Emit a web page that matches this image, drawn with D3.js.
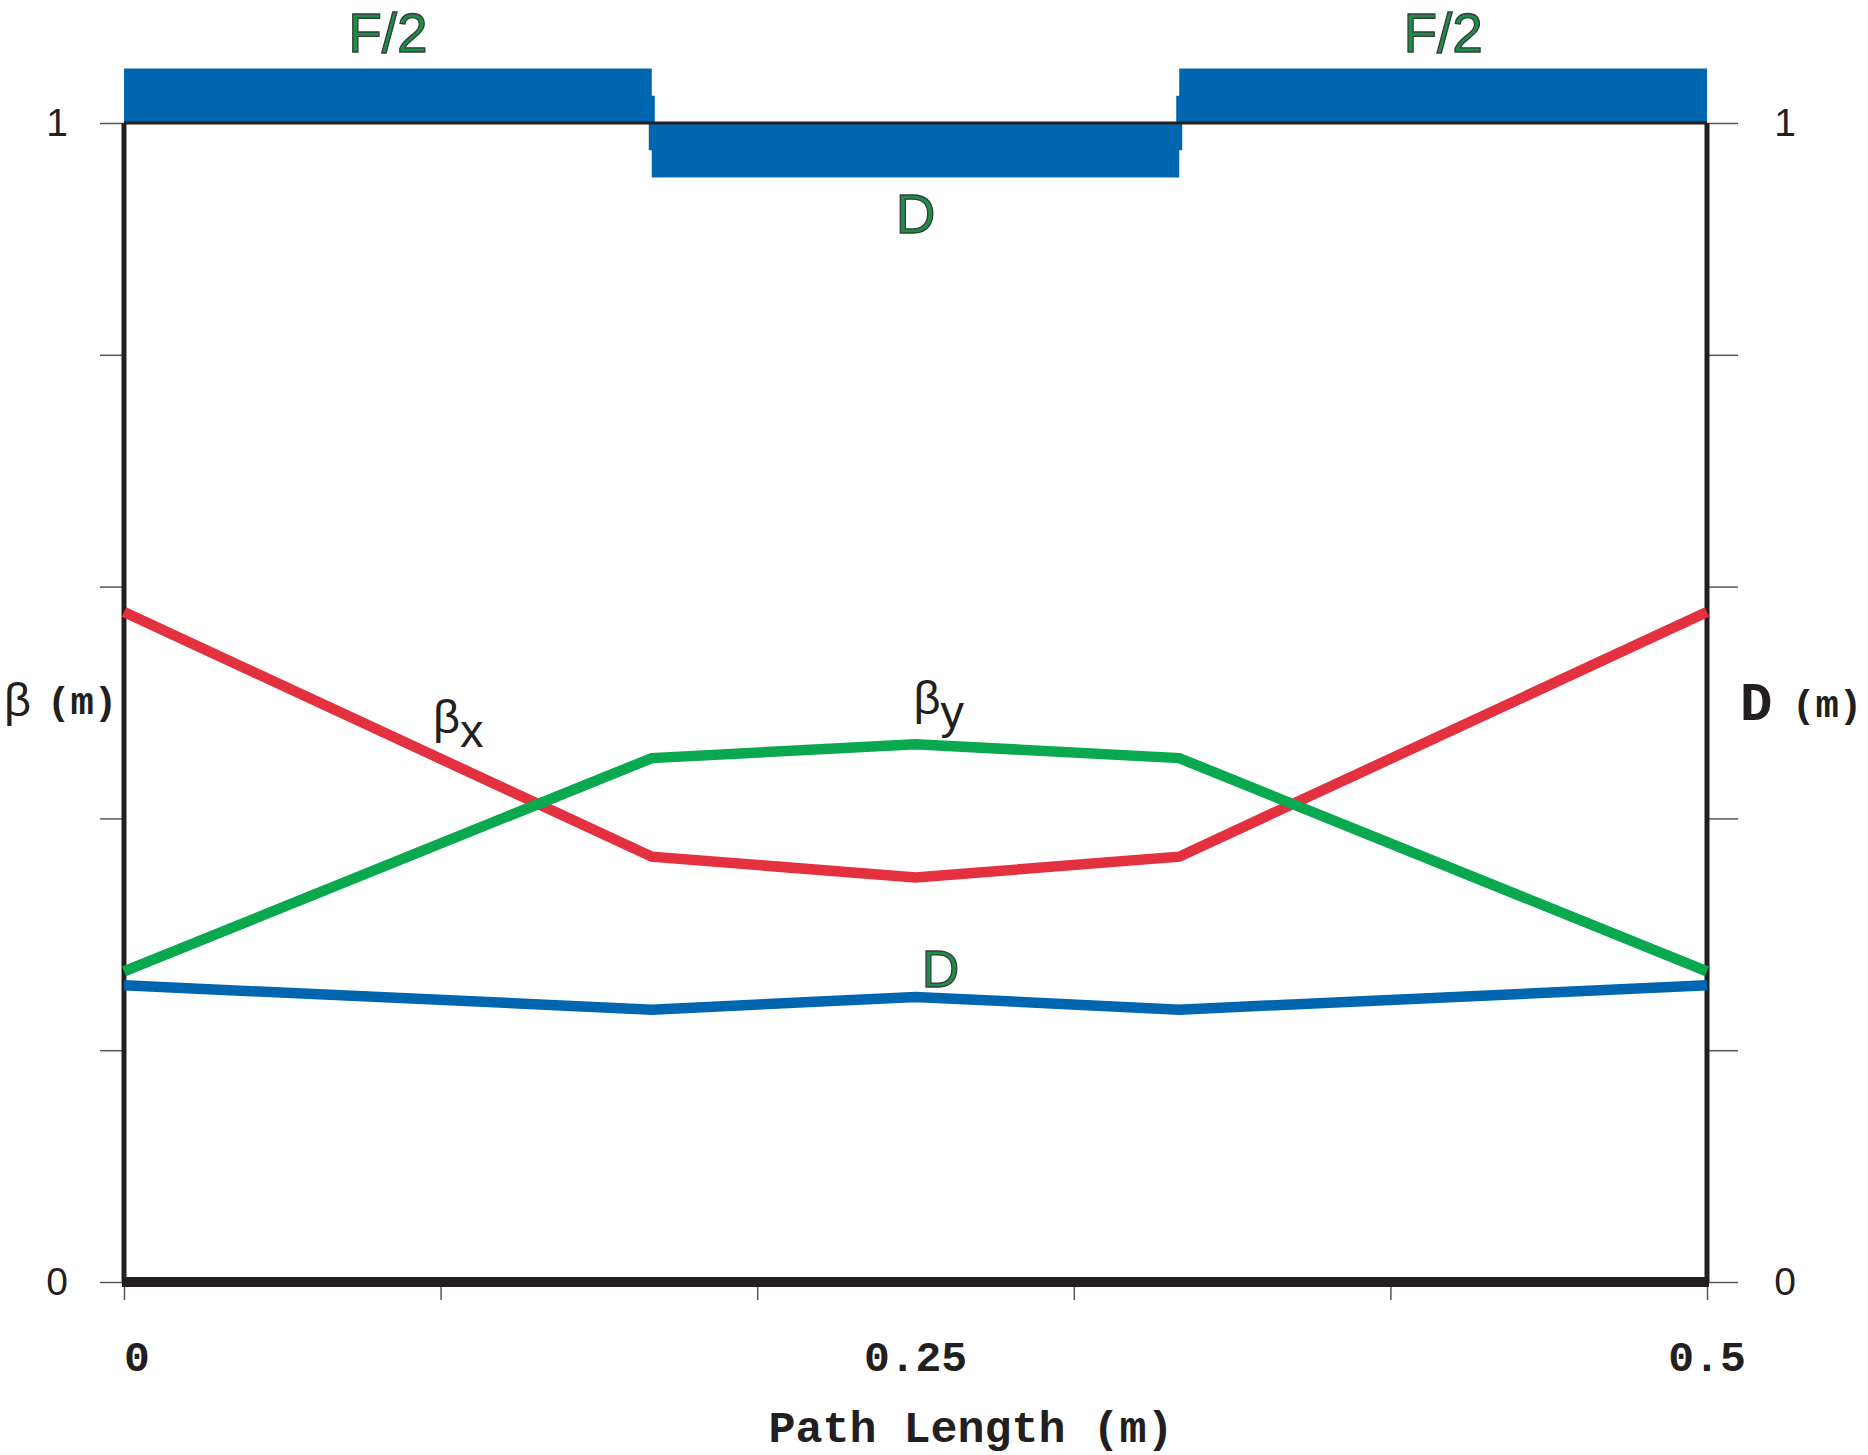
<!DOCTYPE html>
<html>
<head>
<meta charset="utf-8">
<script src="https://cdn.jsdelivr.net/npm/d3@7/dist/d3.min.js"></script>
<style>
  html, body { margin: 0; padding: 0; background: #fff; }
  svg { display: block; }
</style>
</head>
<body>
<svg id="chart" width="1868" height="1455"></svg>
<script>
// ---------------- data ----------------
const pathS   = [0, 0.1667, 0.25, 0.3333, 0.5];      // path length (m)
const betaX   = [0.578, 0.367, 0.349, 0.367, 0.578];  // beta_x (m)
const betaY   = [0.268, 0.452, 0.464, 0.452, 0.268];  // beta_y (m)
const dispD   = [0.256, 0.235, 0.246, 0.235, 0.256];  // dispersion D (m)

const magnetNames  = ["F/2", "D", "F/2"];
const magnetStart  = [0, 0.1667, 0.3333];
const magnetEnd    = [0.1667, 0.3333, 0.5];
const magnetSign   = [1, -1, 1];
const magnetHeight = 0.047;

const yTicks = [0, 0.2, 0.4, 0.6, 0.8, 1];
const yTickLabels = ["0", "1"];
const xTicks = [0, 0.1, 0.2, 0.3, 0.4, 0.5];
const xTickLabels = ["0", "0.25", "0.5"];

// ---------------- layout ----------------
const svg = d3.select("#chart");
const x = d3.scaleLinear().domain([0, 0.5]).range([124, 1707]);
const y = d3.scaleLinear().domain([0, 1]).range([1282, 123]);

const BLUE = "#0066b0", RED = "#e4313f", GREEN = "#0aa84f";
const LABEL_GREEN = "#1b8f48";
const MONO = "'Liberation Mono', 'DejaVu Sans Mono', monospace";
const SANS = "'Liberation Sans', Arial, sans-serif";

// ---------------- axes ticks ----------------
const tickColor = "#555";
const leftAxis = svg.append("g").attr("transform", `translate(${x(0)},0)`)
  .call(d3.axisLeft(y).tickValues(yTicks).tickSize(24).tickFormat(""));
const rightAxis = svg.append("g").attr("transform", `translate(${x(0.5)},0)`)
  .call(d3.axisRight(y).tickValues(yTicks).tickSize(31).tickFormat(""));
const bottomAxis = svg.append("g").attr("transform", `translate(0,${y(0)})`)
  .call(d3.axisBottom(x).tickValues(xTicks).tickSize(18).tickFormat(""));
[leftAxis, rightAxis, bottomAxis].forEach(g => {
  g.select(".domain").remove();
  g.selectAll(".tick line").attr("stroke", tickColor).attr("stroke-width", 1.5);
});

// frame lines
svg.append("line").attr("x1", x(0)).attr("x2", x(0)).attr("y1", y(1)).attr("y2", y(0))
  .attr("stroke", "#231f20").attr("stroke-width", 5);
svg.append("line").attr("x1", x(0.5)).attr("x2", x(0.5)).attr("y1", y(1)).attr("y2", y(0))
  .attr("stroke", "#231f20").attr("stroke-width", 5);

// ---------------- magnet blocks ----------------
const mags = magnetNames.map((n, i) => ({name: n, s0: magnetStart[i], s1: magnetEnd[i], sign: magnetSign[i]}));
svg.append("g").selectAll("rect").data(mags).join("rect")
  .attr("x", d => x(d.s0))
  .attr("width", d => x(d.s1) - x(d.s0))
  .attr("y", d => d.sign > 0 ? y(1 + magnetHeight) : y(1))
  .attr("height", d => Math.abs(y(1) - y(1 + magnetHeight)))
  .attr("fill", BLUE);
// connecting bars at magnet boundaries
const joins = mags.slice(1).map((d, i) => ({s: d.s0, a: mags[i].sign, b: d.sign}));
svg.append("g").selectAll("rect").data(joins).join("rect")
  .attr("x", d => x(d.s) - 3)
  .attr("width", 6)
  .attr("y", y(1 + magnetHeight / 2))
  .attr("height", y(1 - magnetHeight / 2) - y(1 + magnetHeight / 2))
  .attr("fill", BLUE);

// top frame line (over blocks)
svg.append("line").attr("x1", x(0)).attr("x2", x(0.5)).attr("y1", y(1)).attr("y2", y(1))
  .attr("stroke", "#231f20").attr("stroke-width", 3);

// magnet labels
svg.append("g").selectAll("text").data(mags).join("text")
  .attr("x", d => x((d.s0 + d.s1) / 2))
  .attr("y", d => d.sign > 0 ? y(1 + magnetHeight) - 17 : y(1 - magnetHeight) + 56)
  .attr("text-anchor", "middle")
  .attr("font-family", SANS)
  .attr("font-size", 55)
  .attr("fill", LABEL_GREEN)
  .attr("stroke", "#3a3a3a")
  .attr("stroke-width", 1.3)
  .text(d => d.name);

// ---------------- lines ----------------
const line = d3.line().x((d, i) => x(pathS[i])).y(d => y(d));
const series = [
  {vals: betaX, color: RED},
  {vals: betaY, color: GREEN},
  {vals: dispD, color: BLUE}
];
svg.append("g").selectAll("path").data(series).join("path")
  .attr("d", d => line(d.vals))
  .attr("fill", "none")
  .attr("stroke", d => d.color)
  .attr("stroke-width", 10.5)
  .attr("stroke-linejoin", "miter");

// bottom thick axis line
svg.append("line").attr("x1", x(0) - 2).attr("x2", x(0.5) + 2).attr("y1", y(0)).attr("y2", y(0))
  .attr("stroke", "#231f20").attr("stroke-width", 10);

// ---------------- curve labels ----------------
function betaLabel(xv, yv, sub) {
  const t = svg.append("text").attr("x", xv).attr("y", yv)
    .attr("font-family", SANS).attr("font-size", 47).attr("fill", "#231f20");
  t.append("tspan").text("β");
  t.append("tspan").attr("dy", 14).text(sub);
}
betaLabel(x(0.0976), y(0.474), "x");
betaLabel(x(0.25) - 2, y(0.490), "y");

svg.append("text")
  .attr("x", x(0.25) + 25).attr("y", y(dispD[2]) - 10)
  .attr("text-anchor", "middle")
  .attr("font-family", SANS).attr("font-size", 52)
  .attr("fill", LABEL_GREEN).attr("stroke", "#3a3a3a").attr("stroke-width", 1.3)
  .text("D");

// ---------------- tick labels ----------------
svg.append("g").selectAll("text").data(yTickLabels).join("text")
  .attr("x", x(0) - 67).attr("y", d => y(+d) + 13)
  .attr("text-anchor", "middle").attr("font-family", SANS).attr("font-size", 39)
  .attr("fill", "#231f20").text(d => d);
svg.append("g").selectAll("text").data(yTickLabels).join("text")
  .attr("x", x(0.5) + 78).attr("y", d => y(+d) + 13)
  .attr("text-anchor", "middle").attr("font-family", SANS).attr("font-size", 39)
  .attr("fill", "#231f20").text(d => d);
svg.append("g").selectAll("text").data(xTickLabels).join("text")
  .attr("x", d => +d === 0 ? x(0) : x(+d))
  .attr("y", y(0) + 89)
  .attr("text-anchor", d => +d === 0 ? "start" : "middle")
  .attr("font-family", MONO).attr("font-weight", "bold").attr("font-size", 43)
  .attr("fill", "#231f20").text(d => d);

// ---------------- axis titles ----------------
svg.append("text").attr("x", 971).attr("y", 1442)
  .attr("text-anchor", "middle").attr("font-family", MONO).attr("font-weight", "bold")
  .attr("font-size", 45).attr("fill", "#231f20").text("Path Length (m)");

const lt = svg.append("text").attr("x", 4).attr("y", 716).attr("fill", "#231f20");
lt.append("tspan").attr("font-family", SANS).attr("font-size", 47).text("β");
lt.append("tspan").attr("x", 47).attr("y", 714).attr("font-family", MONO).attr("font-weight", "bold").attr("font-size", 39).text("(m)");

const rt = svg.append("text").attr("x", 1740).attr("y", 720).attr("fill", "#231f20");
rt.append("tspan").attr("font-family", MONO).attr("font-weight", "bold").attr("font-size", 54).text("D");
rt.append("tspan").attr("x", 1792).attr("y", 717).attr("font-family", MONO).attr("font-weight", "bold").attr("font-size", 39).text("(m)");
</script>
</body>
</html>
